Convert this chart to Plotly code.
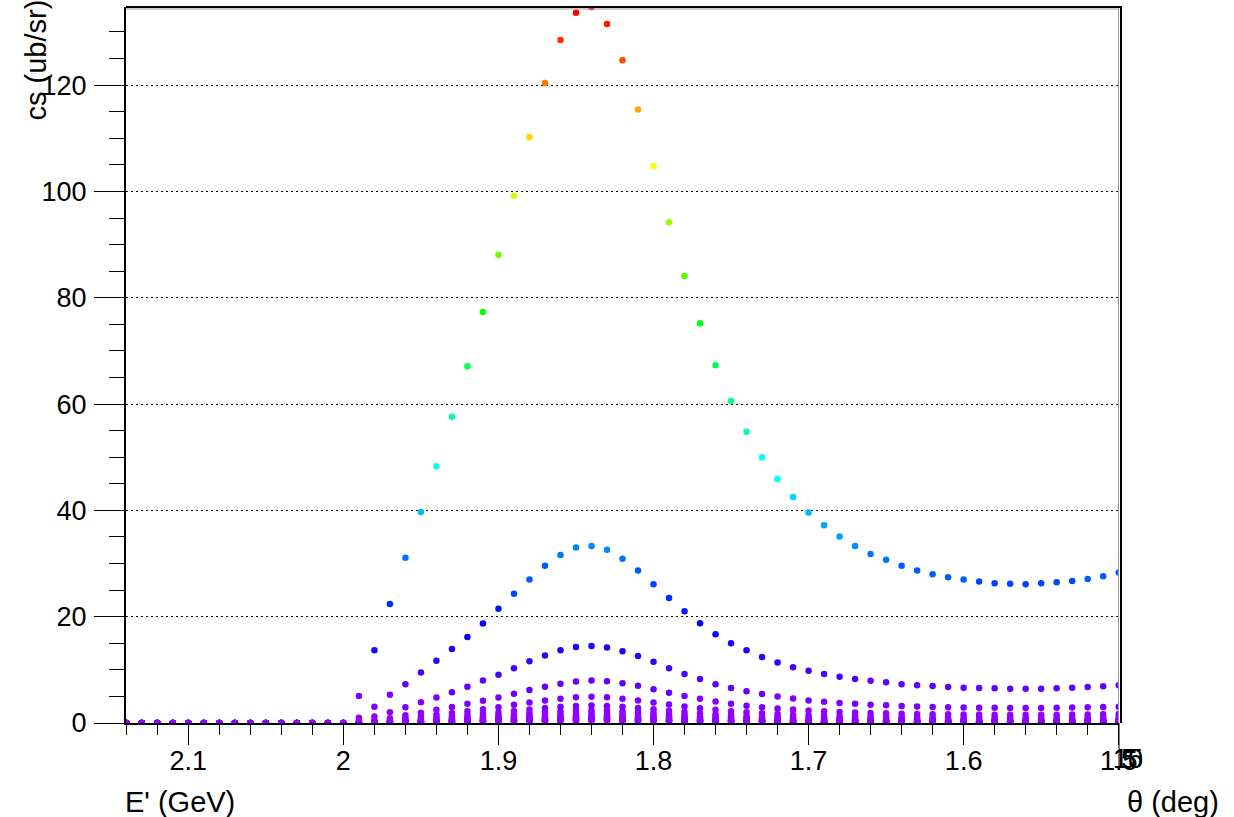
import colorsys
import plotly.graph_objects as go

# Scattered energy E' (GeV), one point every 10 MeV
E_PRIME = [2.14, 2.13, 2.12, 2.11, 2.10, 2.09, 2.08, 2.07, 2.06, 2.05,
           2.04, 2.03, 2.02, 2.01, 2.00, 1.99, 1.98, 1.97, 1.96, 1.95,
           1.94, 1.93, 1.92, 1.91, 1.90, 1.89, 1.88, 1.87, 1.86, 1.85,
           1.84, 1.83, 1.82, 1.81, 1.80, 1.79, 1.78, 1.77, 1.76, 1.75,
           1.74, 1.73, 1.72, 1.71, 1.70, 1.69, 1.68, 1.67, 1.66, 1.65,
           1.64, 1.63, 1.62, 1.61, 1.60, 1.59, 1.58, 1.57, 1.56, 1.55,
           1.54, 1.53, 1.52, 1.51, 1.50]

# Scattering angles (deg)
THETA_DEG = [1, 2, 3, 4, 5, 6, 7, 8, 9, 10, 11, 12, 13, 14, 15]

# Cross sections (ub/sr) for each angle, same E' order as above
CS_T01 = [0, 0, 0, 0, 0, 0, 0, 0, 0, 0, 0, 0, 0, 0, 0,
          5.1, 13.7, 22.4, 31.1, 39.7, 48.3, 57.6, 67.1, 77.3, 88.1,
          99.2, 110.2, 120.4, 128.5, 133.6, 134.7, 131.5, 124.7, 115.4, 104.8,
          94.2, 84.1, 75.2, 67.3, 60.6, 54.8, 50.0, 45.9, 42.5, 39.6,
          37.2, 35.1, 33.3, 31.8, 30.7, 29.6, 28.7, 28.0, 27.4, 27.0,
          26.6, 26.3, 26.2, 26.1, 26.3, 26.5, 26.7, 27.1, 27.6, 28.3]
CS_T02 = [0, 0, 0, 0, 0, 0, 0, 0, 0, 0, 0, 0, 0, 0, 0,
          1.0, 3.07, 5.3, 7.3, 9.5, 11.7, 13.9, 16.2, 18.7, 21.5,
          24.3, 27.0, 29.6, 31.6, 33.0, 33.3, 32.6, 30.9, 28.7, 26.1,
          23.5, 21.0, 18.75, 16.7, 15.0, 13.7, 12.4, 11.4, 10.5, 9.85,
          9.2, 8.7, 8.3, 7.96, 7.65, 7.3, 7.1, 6.96, 6.77, 6.65,
          6.58, 6.52, 6.46, 6.46, 6.46, 6.52, 6.65, 6.77, 6.9, 7.08]
CS_T03 = [0, 0, 0, 0, 0, 0, 0, 0, 0, 0, 0, 0, 0, 0, 0,
          0.4, 1.2, 2.0, 2.95, 3.9, 4.8, 5.8, 6.8, 8.0, 9.1,
          10.3, 11.6, 12.7, 13.7, 14.3, 14.5, 14.2, 13.5, 12.6, 11.5,
          10.3, 9.2, 8.3, 7.3, 6.6, 5.95, 5.45, 5.0, 4.6, 4.25,
          4.0, 3.75, 3.6, 3.45, 3.32, 3.2, 3.1, 3.02, 2.95, 2.9,
          2.87, 2.85, 2.84, 2.83, 2.84, 2.86, 2.9, 2.94, 3.0, 3.07]
CS_T04 = [0, 0, 0, 0, 0, 0, 0, 0, 0, 0, 0, 0, 0, 0, 0,
          0.2, 0.5, 0.9, 1.45, 1.95, 2.5, 3.0, 3.6, 4.2, 4.8,
          5.5, 6.2, 6.8, 7.4, 7.8, 8.0, 7.85, 7.5, 7.0, 6.35,
          5.7, 5.1, 4.55, 4.05, 3.6, 3.26, 2.97, 2.73, 2.52, 2.35,
          2.21, 2.08, 1.98, 1.89, 1.82, 1.76, 1.70, 1.66, 1.63, 1.60,
          1.58, 1.56, 1.56, 1.55, 1.56, 1.57, 1.59, 1.61, 1.64, 1.68]
CS_T05 = [0, 0, 0, 0, 0, 0, 0, 0, 0, 0, 0, 0, 0, 0, 0,
          0.12, 0.31, 0.56, 0.89, 1.21, 1.53, 1.86, 2.23, 2.60, 2.97,
          3.42, 3.84, 4.21, 4.58, 4.83, 4.95, 4.83, 4.58, 4.24, 3.85,
          3.46, 3.09, 2.76, 2.48, 2.23, 2.01, 1.84, 1.69, 1.56, 1.46,
          1.37, 1.29, 1.22, 1.17, 1.13, 1.09, 1.05, 1.03, 1.00, 0.99,
          0.98, 0.97, 0.96, 0.96, 0.97, 0.98, 0.98, 0.99, 1.01, 1.04]
CS_T06 = [0, 0, 0, 0, 0, 0, 0, 0, 0, 0, 0, 0, 0, 0, 0,
          0.08, 0.21, 0.37, 0.59, 0.81, 1.02, 1.24, 1.49, 1.73, 1.98,
          2.28, 2.56, 2.81, 3.05, 3.22, 3.30, 3.22, 3.06, 2.83, 2.57,
          2.31, 2.06, 1.84, 1.65, 1.49, 1.34, 1.22, 1.13, 1.04, 0.97,
          0.91, 0.86, 0.82, 0.78, 0.75, 0.73, 0.70, 0.69, 0.67, 0.66,
          0.65, 0.64, 0.64, 0.64, 0.64, 0.65, 0.65, 0.66, 0.68, 0.69]
CS_T07 = [0, 0, 0, 0, 0, 0, 0, 0, 0, 0, 0, 0, 0, 0, 0,
          0.06, 0.15, 0.27, 0.43, 0.59, 0.74, 0.90, 1.08, 1.26, 1.44,
          1.66, 1.86, 2.04, 2.22, 2.34, 2.40, 2.34, 2.22, 2.06, 1.87,
          1.68, 1.50, 1.34, 1.20, 1.08, 0.98, 0.89, 0.82, 0.76, 0.71,
          0.66, 0.63, 0.59, 0.57, 0.55, 0.53, 0.51, 0.50, 0.49, 0.48,
          0.47, 0.47, 0.47, 0.47, 0.47, 0.47, 0.48, 0.48, 0.49, 0.50]
CS_T08 = [0, 0, 0, 0, 0, 0, 0, 0, 0, 0, 0, 0, 0, 0, 0,
          0.05, 0.11, 0.20, 0.32, 0.44, 0.56, 0.68, 0.81, 0.95, 1.08,
          1.24, 1.40, 1.53, 1.67, 1.76, 1.80, 1.76, 1.67, 1.54, 1.40,
          1.26, 1.12, 1.00, 0.90, 0.81, 0.73, 0.67, 0.61, 0.57, 0.53,
          0.50, 0.47, 0.44, 0.42, 0.41, 0.40, 0.38, 0.37, 0.37, 0.36,
          0.35, 0.35, 0.35, 0.35, 0.35, 0.35, 0.36, 0.36, 0.37, 0.38]
CS_T09 = [0, 0, 0, 0, 0, 0, 0, 0, 0, 0, 0, 0, 0, 0, 0,
          0.04, 0.09, 0.16, 0.25, 0.34, 0.43, 0.53, 0.63, 0.74, 0.84,
          0.97, 1.09, 1.19, 1.30, 1.37, 1.40, 1.37, 1.30, 1.20, 1.09,
          0.98, 0.87, 0.78, 0.70, 0.63, 0.57, 0.52, 0.48, 0.44, 0.41,
          0.39, 0.37, 0.35, 0.33, 0.32, 0.31, 0.30, 0.29, 0.28, 0.28,
          0.28, 0.27, 0.27, 0.27, 0.27, 0.28, 0.28, 0.28, 0.29, 0.29]
CS_T10 = [0, 0, 0, 0, 0, 0, 0, 0, 0, 0, 0, 0, 0, 0, 0,
          0.03, 0.07, 0.12, 0.20, 0.27, 0.34, 0.41, 0.50, 0.58, 0.66,
          0.76, 0.85, 0.94, 1.02, 1.07, 1.10, 1.07, 1.02, 0.94, 0.86,
          0.77, 0.69, 0.61, 0.55, 0.50, 0.45, 0.41, 0.38, 0.35, 0.32,
          0.30, 0.29, 0.27, 0.26, 0.25, 0.24, 0.23, 0.23, 0.22, 0.22,
          0.22, 0.21, 0.21, 0.21, 0.21, 0.22, 0.22, 0.22, 0.23, 0.23]
CS_T11 = [0, 0, 0, 0, 0, 0, 0, 0, 0, 0, 0, 0, 0, 0, 0,
          0.02, 0.06, 0.10, 0.16, 0.22, 0.28, 0.34, 0.41, 0.47, 0.54,
          0.62, 0.70, 0.77, 0.83, 0.88, 0.90, 0.88, 0.83, 0.77, 0.70,
          0.63, 0.56, 0.50, 0.45, 0.41, 0.37, 0.33, 0.31, 0.28, 0.26,
          0.25, 0.23, 0.22, 0.21, 0.21, 0.20, 0.19, 0.19, 0.18, 0.18,
          0.18, 0.18, 0.18, 0.17, 0.18, 0.18, 0.18, 0.18, 0.18, 0.19]
CS_T12 = [0, 0, 0, 0, 0, 0, 0, 0, 0, 0, 0, 0, 0, 0, 0,
          0.02, 0.05, 0.08, 0.14, 0.18, 0.23, 0.28, 0.34, 0.39, 0.45,
          0.52, 0.58, 0.64, 0.69, 0.73, 0.75, 0.73, 0.69, 0.64, 0.58,
          0.52, 0.47, 0.42, 0.38, 0.34, 0.31, 0.28, 0.26, 0.24, 0.22,
          0.21, 0.20, 0.19, 0.18, 0.17, 0.17, 0.16, 0.16, 0.15, 0.15,
          0.15, 0.15, 0.15, 0.15, 0.15, 0.15, 0.15, 0.15, 0.15, 0.16]
CS_T13 = [0, 0, 0, 0, 0, 0, 0, 0, 0, 0, 0, 0, 0, 0, 0,
          0.02, 0.04, 0.07, 0.11, 0.15, 0.19, 0.23, 0.28, 0.33, 0.37,
          0.43, 0.48, 0.53, 0.57, 0.60, 0.62, 0.61, 0.57, 0.53, 0.48,
          0.43, 0.39, 0.35, 0.31, 0.28, 0.25, 0.23, 0.21, 0.20, 0.18,
          0.17, 0.16, 0.15, 0.15, 0.14, 0.14, 0.13, 0.13, 0.13, 0.12,
          0.12, 0.12, 0.12, 0.12, 0.12, 0.12, 0.12, 0.12, 0.13, 0.13]
CS_T14 = [0, 0, 0, 0, 0, 0, 0, 0, 0, 0, 0, 0, 0, 0, 0,
          0.01, 0.03, 0.06, 0.10, 0.13, 0.16, 0.20, 0.24, 0.28, 0.32,
          0.37, 0.41, 0.45, 0.49, 0.52, 0.53, 0.52, 0.49, 0.45, 0.41,
          0.37, 0.33, 0.30, 0.27, 0.24, 0.22, 0.20, 0.18, 0.17, 0.16,
          0.15, 0.14, 0.13, 0.13, 0.12, 0.12, 0.11, 0.11, 0.11, 0.11,
          0.10, 0.10, 0.10, 0.10, 0.10, 0.10, 0.10, 0.11, 0.11, 0.11]
CS_T15 = [0, 0, 0, 0, 0, 0, 0, 0, 0, 0, 0, 0, 0, 0, 0,
          0.01, 0.03, 0.05, 0.08, 0.11, 0.14, 0.17, 0.21, 0.24, 0.28,
          0.32, 0.36, 0.39, 0.43, 0.45, 0.46, 0.45, 0.43, 0.39, 0.36,
          0.32, 0.29, 0.26, 0.23, 0.21, 0.19, 0.17, 0.16, 0.15, 0.14,
          0.13, 0.12, 0.11, 0.11, 0.10, 0.10, 0.10, 0.10, 0.09, 0.09,
          0.09, 0.09, 0.09, 0.09, 0.09, 0.09, 0.09, 0.09, 0.09, 0.10]

CROSS_SECTIONS = [CS_T01, CS_T02, CS_T03, CS_T04, CS_T05, CS_T06, CS_T07, CS_T08,
                  CS_T09, CS_T10, CS_T11, CS_T12, CS_T13, CS_T14, CS_T15]
for cs in CROSS_SECTIONS:
    assert len(cs) == len(E_PRIME)

# Y-axis tick values
Y_TICKS = [0, 20, 40, 60, 80, 100, 120]
THETA_TICK_LABELS = ["10", "15", "5"]

# 50-step violet -> red spectrum (HLS, hue 280 -> 0)
N_COLORS = 50
palette = []
for i in range(N_COLORS):
    hue = 280.0 - (i + 1) * 280.0 / N_COLORS
    r, g, b = colorsys.hls_to_rgb(hue / 360.0, 0.5, 1.0)
    palette.append(f"rgb({round(r * 255)},{round(g * 255)},{round(b * 255)})")
colorscale = []
for i, c in enumerate(palette):
    colorscale.append([i / N_COLORS, c])
    colorscale.append([(i + 1) / N_COLORS, c])

z_min = min(min(cs) for cs in CROSS_SECTIONS)
z_max = max(max(cs) for cs in CROSS_SECTIONS)

FONT = "Liberation Sans, Arial, Helvetica, sans-serif"
TICK_SIZE = 27
TITLE_SIZE = 29
W, H = 1234, 817
M_L, M_R, M_T, M_B = 126, 115, 7, 94
PW, PH = W - M_L - M_R, H - M_T - M_B


def px_x(p):
    return (p - M_L) / PW


def px_y(p):
    return 1 - (p - M_T) / PH


fig = go.Figure()
for theta, cs in reversed(list(zip(THETA_DEG, CROSS_SECTIONS))):
    fig.add_trace(go.Scatter(
        x=E_PRIME, y=cs, mode="markers", name=f"θ = {theta}°",
        marker=dict(size=6.5, color=cs, colorscale=colorscale,
                    cmin=z_min, cmax=z_max, line=dict(width=0)),
        showlegend=False, hoverinfo="x+y+name",
    ))

axis_common = dict(
    showline=True, linecolor="black", linewidth=2,
    ticks="outside", tickcolor="black", tickwidth=1,
    tickfont=dict(family=FONT, size=TICK_SIZE, color="black"),
    zeroline=False,
)

fig.update_xaxes(
    range=[E_PRIME[0] + 0.0002, E_PRIME[-1] - 0.0002],
    tickmode="linear", tick0=2.0, dtick=0.1, ticklen=20,
    ticklabelstandoff=-7,
    minor=dict(tickmode="linear", tick0=2.0, dtick=0.02, ticklen=10,
               tickcolor="black", tickwidth=1, ticks="outside"),
    showgrid=False, **axis_common,
)
fig.update_yaxes(
    range=[0, z_max],
    tickmode="array", tickvals=Y_TICKS, ticklen=30,
    ticklabelstandoff=2,
    minor=dict(tickmode="linear", tick0=0, dtick=5, ticklen=15,
               tickcolor="black", tickwidth=1, ticks="outside"),
    showgrid=True, gridcolor="black", gridwidth=1, griddash="2px,3px",
    **axis_common,
)

shapes = [
    # top and right edges of the box
    dict(type="line", xref="paper", yref="paper", x0=px_x(126), x1=px_x(1122),
         y0=px_y(7), y1=px_y(7), line=dict(color="black", width=2)),
    dict(type="line", xref="paper", yref="paper", x0=px_x(126), x1=px_x(1119),
         y0=px_y(9), y1=px_y(9), line=dict(color="#999999", width=1)),
    dict(type="line", xref="paper", yref="paper", x0=px_x(1121), x1=px_x(1121),
         y0=px_y(7), y1=px_y(723), line=dict(color="black", width=2)),
    dict(type="line", xref="paper", yref="paper", x0=px_x(1118.5), x1=px_x(1118.5),
         y0=px_y(9), y1=px_y(723), line=dict(color="#999999", width=1)),
    # collapsed theta axis
    dict(type="line", xref="paper", yref="paper", x0=px_x(1119), x1=px_x(1119),
         y0=px_y(723), y1=px_y(767), line=dict(color="black", width=1)),
]

annotations = [
    dict(text="cs (ub/sr)", xref="paper", yref="paper",
         x=px_x(36), y=px_y(-2), xanchor="center", yanchor="top", textangle=-90,
         showarrow=False, font=dict(family=FONT, size=TITLE_SIZE, color="black")),
    dict(text="E' (GeV)", xref="paper", yref="paper",
         x=px_x(123), y=px_y(802), xanchor="left", yanchor="middle",
         showarrow=False, font=dict(family=FONT, size=TITLE_SIZE, color="black")),
    dict(text="θ (deg)", xref="paper", yref="paper",
         x=px_x(1125), y=px_y(802), xanchor="left", yanchor="middle",
         showarrow=False, font=dict(family=FONT, size=TITLE_SIZE, color="black")),
]
for lab in THETA_TICK_LABELS:
    annotations.append(dict(
        text=lab, xref="paper", yref="paper", x=px_x(1128), y=px_y(759),
        xanchor="center", yanchor="middle", showarrow=False,
        font=dict(family=FONT, size=TICK_SIZE, color="black")))

fig.update_layout(
    width=W, height=H,
    margin=dict(l=M_L, r=M_R, t=M_T, b=M_B, pad=0),
    plot_bgcolor="white", paper_bgcolor="white",
    shapes=shapes, annotations=annotations,
)

fig.write_html("out.html")
